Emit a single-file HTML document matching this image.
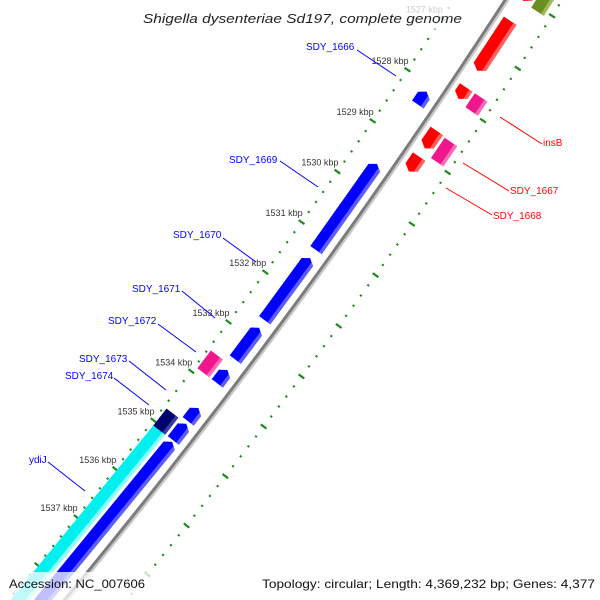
<!DOCTYPE html>
<html><head><meta charset="utf-8"><style>
html,body{margin:0;padding:0;background:#fff;width:600px;height:600px;overflow:hidden;}
svg{display:block;font-family:"Liberation Sans",sans-serif;}
</style></head><body>
<svg id="map" width="600" height="600" viewBox="0 0 600 600" xmlns="http://www.w3.org/2000/svg">
<rect x="0" y="0" width="600" height="600" fill="#fff"/>
<g id="ticks"></g>
<g id="backbone"></g>
<g id="genes"></g>
<g id="kbp" font-size="9" fill="#333"></g>
<g font-size="10">
  <g fill="#0000ff" stroke="none">
    <text x="306" y="50">SDY_1666</text>
    <text x="229" y="163">SDY_1669</text>
    <text x="173" y="238">SDY_1670</text>
    <text x="132" y="292">SDY_1671</text>
    <text x="108" y="324">SDY_1672</text>
    <text x="79" y="362">SDY_1673</text>
    <text x="65" y="379">SDY_1674</text>
    <text x="29" y="463">ydiJ</text>
  </g>
  <g stroke="#0000ff" stroke-width="1">
    <line x1="357" y1="50" x2="396" y2="76"/>
    <line x1="280" y1="161" x2="318" y2="187"/>
    <line x1="223" y1="238" x2="256" y2="262"/>
    <line x1="182" y1="291" x2="215" y2="318"/>
    <line x1="158" y1="324" x2="196" y2="352"/>
    <line x1="129" y1="361" x2="166" y2="390"/>
    <line x1="114" y1="378" x2="149" y2="405"/>
    <line x1="48" y1="462" x2="85" y2="491"/>
  </g>
  <g fill="#ff0000">
    <text x="543" y="146">insB</text>
    <text x="510" y="194">SDY_1667</text>
    <text x="493" y="219">SDY_1668</text>
  </g>
  <g stroke="#ff0000" stroke-width="1">
    <line x1="500" y1="117" x2="542" y2="144"/>
    <line x1="463" y1="163" x2="509" y2="191"/>
    <line x1="446" y1="188" x2="492" y2="215"/>
  </g>
</g>
<rect x="140" y="0" width="327" height="29" fill="#fff" opacity="0.75"/>
<rect x="0" y="572" width="152" height="28" fill="#fff" opacity="0.75"/>
<rect x="257" y="572" width="343" height="28" fill="#fff" opacity="0.75"/>
<text x="143" y="23" font-size="13" font-style="italic" fill="#222" textLength="319" lengthAdjust="spacingAndGlyphs">Shigella dysenteriae Sd197, complete genome</text>
<text x="9" y="588" font-size="12" fill="#111" textLength="136" lengthAdjust="spacingAndGlyphs">Accession: NC_007606</text>
<text x="262" y="588" font-size="12" fill="#111" textLength="333" lengthAdjust="spacingAndGlyphs">Topology: circular; Length: 4,369,232 bp; Genes: 4,377</text>
</svg>
<script>
// ---- data ----
const tickStart = 1525;
const tickEnd = 1540;
const kbpLabels = [1527, 1528, 1529, 1530, 1531, 1532, 1533, 1534, 1535, 1536, 1537];
const geneNames  = ["red-top","olive-top","red-large","red-insb-adj","insB","red-1667-adj","SDY_1667","SDY_1668","SDY_1666","SDY_1669","SDY_1670","SDY_1671","SDY_1672","blue-1533","blue-1534a","blue-1534b","blue-large","SDY_1674","ydiJ"];
const geneStart  = [1525.5,1524.0,1526.43,1527.71,1527.71,1528.55,1528.57,1529.05,1528.12,1529.53,1531.39,1532.78,1533.54,1533.63,1534.40,1534.72,1535.09,1534.72,1535.07];
const geneEnd    = [1526.05,1526.07,1527.39,1527.93,1527.98,1528.89,1528.96,1529.34,1528.37,1531.23,1532.63,1533.42,1533.90,1533.90,1534.67,1535.06,1540.0,1535.07,1540.0];
const geneStrand = [1,-1,1,1,0,1,0,1,-1,-1,-1,-1,0,-1,-1,-1,-1,0,0];
const geneTrack  = ["A+","B+","A+","A+","B+","A+","B+","A+","A-","A-","A-","A-","B-","A-","A-","A-","A-","B-","B-"];
const geneColor  = ["red","olive","red","red","pink","red","pink","red","blue","blue","blue","blue","pink","blue","blue","blue","blue","navy","cyan"];

// ---- geometry ----
const CX = -4832, CY = -3459, R0 = 6360, TH0 = 33.96, DEG_PER_KBP = 0.561;
const NS = "http://www.w3.org/2000/svg";
const trackR = {"A-":[-22,-8],"B-":[-40,-25],"A+":[8,23],"B+":[26,41]};
const palette = {red:["#ff0000","#ff6060"],blue:["#0000ff","#5c5cff"],pink:["#f0168c","#ff6ab8"],olive:["#6b8e23","#9cba55"],navy:["#00006e","#3c3ca0"],cyan:["#00f0f0","#90ffff"]};
function P(r,k){const t=(TH0+(k-1528)*DEG_PER_KBP)*Math.PI/180;return [CX+r*Math.cos(t),CY+r*Math.sin(t)];}
function pts(list){return list.map(p=>p[0].toFixed(2)+","+p[1].toFixed(2)).join(" ");}

const bb=document.getElementById("backbone");
function arcPath(r,k1,k2){let d="";for(let k=k1;k<=k2+1e-9;k+=0.5){const p=P(r,k);d+=(d?"L":"M")+p[0].toFixed(2)+" "+p[1].toFixed(2);}return d;}
const sh=document.createElementNS(NS,"path");


sh.setAttribute("d",arcPath(R0+2.5,1523,1541));sh.setAttribute("stroke","#c8c8c8");sh.setAttribute("stroke-width","2.5");sh.setAttribute("fill","none");
bb.appendChild(sh);
const ln=document.createElementNS(NS,"path");


ln.setAttribute("d",arcPath(R0,1523,1541));ln.setAttribute("stroke","#7c7c7c");ln.setAttribute("stroke-width","3");ln.setAttribute("fill","none");
bb.appendChild(ln);

const tg=document.getElementById("ticks");
for(let i=0;i<=Math.round((tickEnd-tickStart)*5);i++){
  const k=tickStart+i*0.2;
  const major=(i%5===0);
  [R0-43,R0+48].forEach(rc=>{
    const half=major?3.5:1.1;
    const a=P(rc-half,k),b=P(rc+half,k);
    const l=document.createElementNS(NS,"line");
    
    
    l.setAttribute("x1",a[0]);l.setAttribute("y1",a[1]);l.setAttribute("x2",b[0]);l.setAttribute("y2",b[1]);
    l.setAttribute("stroke","#1c8a1c");l.setAttribute("stroke-width",major?"2.2":"2");
    tg.appendChild(l);
  });
}
const kg=document.getElementById("kbp");
kbpLabels.forEach(k=>{
  const p=P(R0-43,k);
  const t=document.createElementNS(NS,"text");
  
  
  t.setAttribute("x",(p[0]+1).toFixed(1));t.setAttribute("y",(p[1]-6).toFixed(1));
  t.setAttribute("text-anchor","end");
  t.textContent=k+" kbp";
  kg.appendChild(t);
});

const gg=document.getElementById("genes");
const HEAD=0.08;
for(let i=0;i<geneNames.length;i++){
  const [o1,o2]=trackR[geneTrack[i]];
  const r1=R0+o1,r2=R0+o2,rm=(r1+r2)/2,rb=r2-3.5;
  const k1=geneStart[i],k2=geneEnd[i],s=geneStrand[i];
  let shape,strip;
  if(s===1){
    shape=[P(r1,k1),P(r2,k1),P(r2,k2-HEAD),P(rm,k2),P(r1,k2-HEAD)];
    strip=[P(rb,k1),P(r2,k1),P(r2,k2-HEAD),P(rb,k2-HEAD*0.45)];
  }else if(s===-1){
    shape=[P(r1,k2),P(r2,k2),P(r2,k1+HEAD),P(rm,k1),P(r1,k1+HEAD)];
    strip=[P(rb,k2),P(r2,k2),P(r2,k1+HEAD),P(rb,k1+HEAD*0.45)];
  }else{
    shape=[P(r1,k1),P(r2,k1),P(r2,k2),P(r1,k2)];
    strip=[P(rb,k1),P(r2,k1),P(r2,k2),P(rb,k2)];
  }
  const g=document.createElementNS(NS,"g");
  
  
  const a=document.createElementNS(NS,"polygon");
  
  
  a.setAttribute("points",pts(shape));a.setAttribute("fill",palette[geneColor[i]][0]);
  g.appendChild(a);
  const b=document.createElementNS(NS,"polygon");
  
  
  b.setAttribute("points",pts(strip));b.setAttribute("fill",palette[geneColor[i]][1]);
  g.appendChild(b);
  gg.appendChild(g);
}
</script>
</body></html>
